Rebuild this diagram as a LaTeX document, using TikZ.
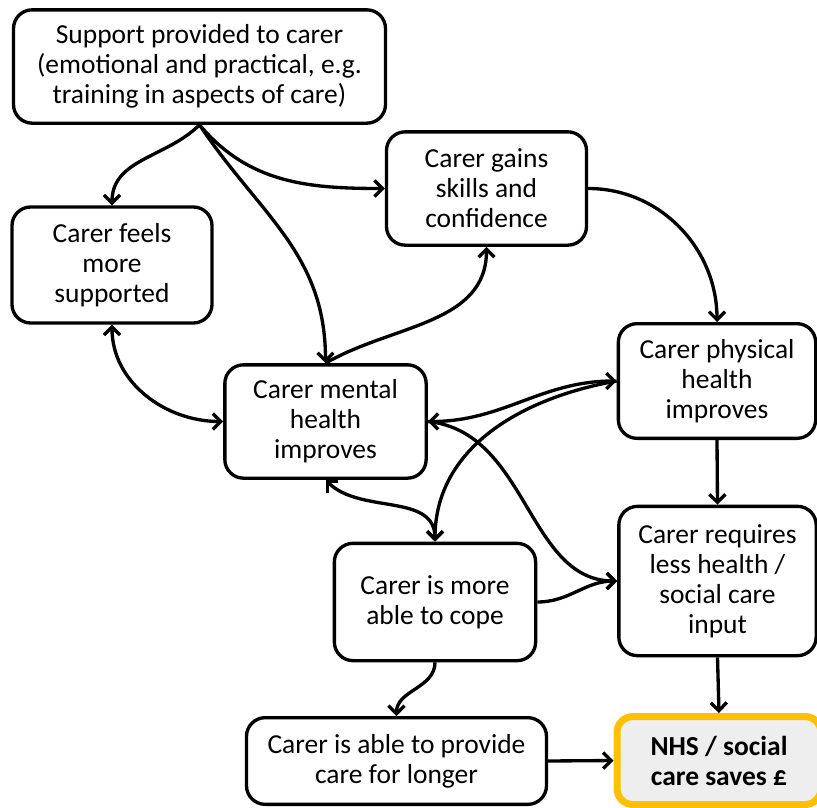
\documentclass[tikz,border=0pt]{standalone}
\usepackage{fontspec}
\setmainfont{Carlito}
\usetikzlibrary{arrows.meta}
\definecolor{savegold}{HTML}{FFC000}
\definecolor{savefill}{HTML}{EEEEEE}
\tikzset{
	blk/.style={draw, line width=2.5pt, rounded corners=14pt, fill=white, align=center, inner sep=2pt, font=\fontsize{20.6}{22.5}\selectfont},
	lnk/.style={line width=2.5pt, ->},
	lnkb/.style={line width=2.5pt, <->}
}

\begin{document}
\begin{tikzpicture}[x=0.75pt, y=0.75pt, >={Straight Barb[length=6pt,width=12pt]}]
	\useasboundingbox (0,0) rectangle (817,-807);
	\draw (199.5,-66.5) node[blk, minimum width=279pt, minimum height=85pt](eff1) {Support provided to carer \\ (emotional and practical, e.g. \\ training in aspects of care)};
	\draw (486.5,-188.5) node[blk, minimum width=150pt, minimum height=85pt](eff2) {Carer gains \\ skills and \\ confidence};
	\draw (112,-265) node[blk, minimum width=150pt, minimum height=87pt](eff3) {Carer feels \\ more \\ supported};
	\draw (717,-381) node[blk, minimum width=148pt, minimum height=86pt](eff4) {Carer physical \\ health \\ improves};
	\draw (325.5,-421.5) node[blk, minimum width=151pt, minimum height=85pt](eff5) {Carer mental \\ health \\ improves};
	\draw (435,-602) node[blk, minimum width=151pt, minimum height=88pt](eff6) {Carer is more \\ able to cope};
	\draw (717.5,-581) node[blk, minimum width=148pt, minimum height=112pt](eff7) {Carer requires \\ less health / \\ social care \\ input};
	\draw (396.5,-761) node[blk, minimum width=225pt, minimum height=65pt](eff8) {Carer is able to provide \\ care for longer};
	\draw (719,-760.5) node[blk, draw=savegold, fill=savefill, line width=5.25pt, rounded corners=12pt, minimum width=153pt, minimum height=66pt, font=\fontsize{20.6}{22.5}\selectfont\bfseries](eff9) {NHS / social \\ care saves £};
	% from the support
	\draw[lnk] (eff1.south) to[out=-135, in=90] (eff3.north);
	\draw[lnk] (eff1.south) to[out=-50, in=180] (eff2.west);
	\draw[lnk] (eff1.south) .. controls +(60,-90) and +(0,110) .. (eff5.north);
	\draw[lnk] (eff5.north) to[out=30, in=-90] (eff2.south);
	\draw[lnkb] (eff3.south) to[out=-90, in=180] (eff5.west);
	\draw[lnk] (eff2.east) to[out=0, in=90] (eff4.north);
	% middle links
	\draw[lnkb] (eff5.east) to[out=0, in=180] (eff4.west);
	\draw[lnk] (eff4.west) to[out=190, in=90] (eff6.north);
	\draw[lnk] (eff5.east) .. controls +(100,-10) and +(-90,0) .. (eff7.west);
	\draw[lnkb] (eff5.south) to[out=-45, in=90] (eff6.north);
	\draw[lnk] (eff6.east) to[out=0, in=180] (eff7.west);
	% to the savings
	\draw[lnk] (eff4.south) -- (eff7.north);
	\draw[lnk] (eff6.south) to[out=-90, in=90] (eff8.north);
	\draw[lnk] (eff8.east) -- (eff9.west);
	\draw[lnk] (eff7.south) -- (eff9.north);
\end{tikzpicture}
\end{document}
